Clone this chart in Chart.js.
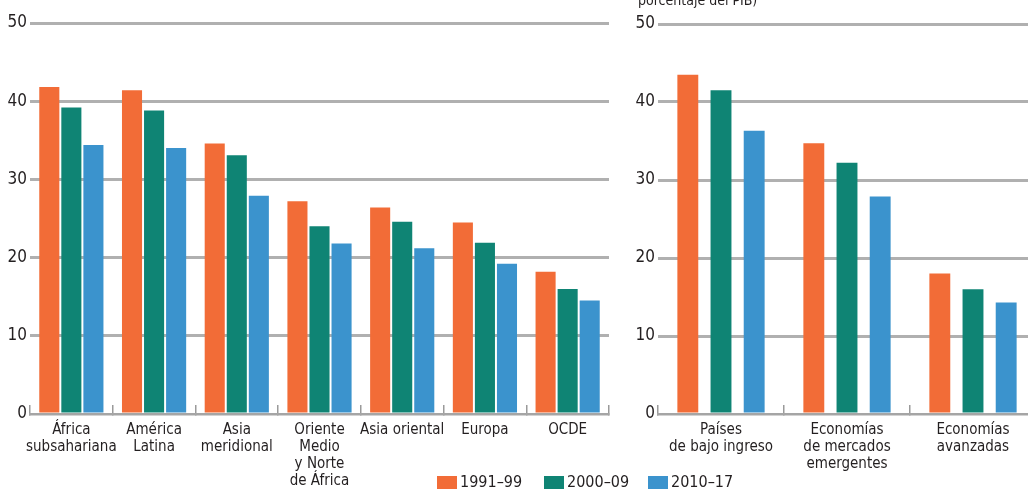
<!DOCTYPE html>
<html>
<head>
<meta charset="utf-8">
<script src="https://cdn.jsdelivr.net/npm/chart.js@4.4.1/dist/chart.umd.min.js"></script>
<style>
  html, body { margin: 0; padding: 0; background: #fff; overflow: hidden; width: 1028px; height: 489px; }
  body { position: relative; font-family: "Liberation Sans Narrow", "DejaVu Sans Condensed", sans-serif; color: #231f20; }
  #leftChart { position: absolute; left: 0; top: 0; }
  #rightChart { position: absolute; left: 612px; top: 0; }
  #note { position: absolute; left: 638px; top: -7px; font-size: 14px; line-height: 14px; white-space: nowrap; }
  #legend { position: absolute; left: 437px; top: 473px; display: flex; font-size: 16px; line-height: 18px; }
  .item { display: flex; align-items: flex-start; }
  .swatch { width: 20px; height: 20px; margin-top: 3px; margin-right: 3px; flex: none; }
</style>
</head>
<body>
<canvas id="leftChart" width="612" height="489"></canvas>
<canvas id="rightChart" width="428" height="489"></canvas>
<div id="note">porcentaje del PIB)</div>
<div id="legend"></div>

<script>
// ======================
// DATA
// ======================
const periods = ["1991–99", "2000–09", "2010–17"];
const colors = ["#f26c37", "#0f8474", "#3b93cd"];

const regionLabels = [
    ["África", "subsahariana"],
    ["América", "Latina"],
    ["Asia", "meridional"],
    ["Oriente", "Medio", "y Norte", "de África"],
    "Asia oriental",
    "Europa",
    "OCDE"
];
const region1991 = [41.8, 41.4, 34.6, 27.2, 26.4, 24.5, 18.2];
const region2000 = [39.2, 38.8, 33.1, 24.0, 24.6, 21.9, 16.0];
const region2010 = [34.4, 34.0, 27.9, 21.8, 21.2, 19.2, 14.5];

const groupLabels = [
    ["Países", "de bajo ingreso"],
    ["Economías", "de mercados", "emergentes"],
    ["Economías", "avanzadas"]
];
const group1991 = [43.5, 34.7, 18.0];
const group2000 = [41.5, 32.2, 16.0];
const group2010 = [36.3, 27.9, 14.3];

const yTicks = [0, 10, 20, 30, 40, 50];


// ======================
// SHARED OPTIONS
// ======================
const FONT = "'Liberation Sans Narrow', 'DejaVu Sans Condensed', sans-serif";
const TEXT = "#231f20";

function makeOptions(yWidth, top, right) {
    return {
        responsive: false,
        animation: false,
        layout: { padding: { top: top, right: right, bottom: 0, left: 0 } },
        plugins: { legend: { display: false }, tooltip: { enabled: false } },
        scales: {
            x: {
                grid: {
                    offset: true,
                    drawOnChartArea: false,
                    drawTicks: true,
                    tickLength: -9,
                    color: "#9a9a9a",
                    lineWidth: 1.5
                },
                border: { display: true, color: "#a5a5a5", width: 2.5 },
                ticks: {
                    color: TEXT,
                    padding: 17,
                    maxRotation: 0,
                    autoSkip: false,
                    font: { family: FONT, size: 15, lineHeight: "17px" }
                },
                afterFit: (scale) => { scale.height = 75; }
            },
            y: {
                min: 0,
                max: 50,
                afterBuildTicks: (scale) => { scale.ticks = yTicks.map(v => ({ value: v })); },
                grid: {
                    drawTicks: false,
                    color: (ctx) => ctx.tick && ctx.tick.value === 0 ? "rgba(0,0,0,0)" : "#b0b0b0",
                    lineWidth: 3
                },
                border: { display: false },
                ticks: {
                    color: TEXT,
                    padding: 3,
                    font: { family: FONT, size: 17 }
                },
                afterFit: (scale) => { scale.width = yWidth; }
            }
        }
    };
}

function makeDatasets(a, b, c, catPct, barPct) {
    return [a, b, c].map((vals, i) => ({
        label: periods[i],
        data: vals,
        backgroundColor: colors[i],
        borderWidth: 0,
        categoryPercentage: catPct,
        barPercentage: barPct
    }));
}


// ======================
// CHARTS
// ======================
const leftChart = new Chart(document.getElementById("leftChart"), {
    type: "bar",
    data: {
        labels: regionLabels,
        datasets: makeDatasets(region1991, region2000, region2010, 0.8, 0.91)
    },
    options: makeOptions(30, 23, 3)
});

const rightChart = new Chart(document.getElementById("rightChart"), {
    type: "bar",
    data: {
        labels: groupLabels,
        datasets: makeDatasets(group1991, group2000, group2010, 0.79, 0.63)
    },
    options: makeOptions(46, 24, 4)
});


// ======================
// LEGEND
// ======================
const legend = document.getElementById("legend");
const itemWidths = [107, 104, 104];
periods.forEach((p, i) => {
    const item = document.createElement("div");
    item.className = "item";
    item.style.width = itemWidths[i] + "px";
    item.innerHTML = '<span class="swatch" style="background:' + colors[i] + '"></span><span>' + p + '</span>';
    legend.appendChild(item);
});
</script>
</body>
</html>
